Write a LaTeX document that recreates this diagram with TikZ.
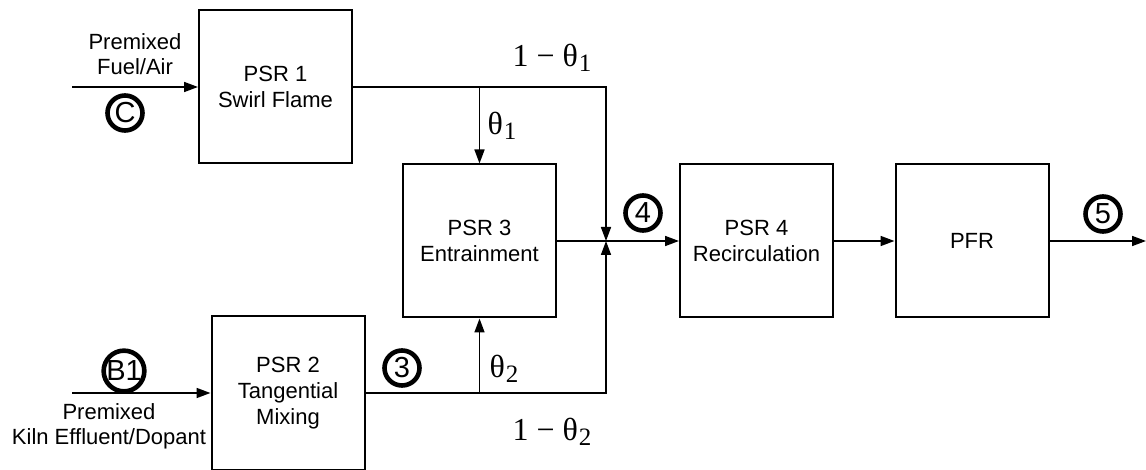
\documentclass[tikz,border=0pt]{standalone}
\usepackage{fontspec}
\setmainfont{Liberation Sans}
\newfontfamily\splitfont{Liberation Serif}
\usetikzlibrary{arrows.meta,positioning}
\newcommand{\lowidx}[1]{\kern0.5pt\raisebox{-2.5pt}{\fontsize{12.5}{12.5}\selectfont #1}}

\tikzset{
  reactor/.style={draw,line width=1pt,minimum width=76.5pt,minimum height=76.5pt,
    align=center,font=\fontsize{11}{13}\selectfont},
  port/.style={circle,draw,line width=2.3pt,minimum size=17.5pt,inner sep=0pt,
    font=\fontsize{14.5}{14.5}\selectfont},
  pipe/.style={line width=0.8pt},
  flow/.style={pipe,-{Triangle[length=7pt,width=5pt]}},
  split/.style={font=\splitfont\fontsize{16}{16}\selectfont},
  feed/.style={align=center,font=\fontsize{11}{12.5}\selectfont}
}

\begin{document}
\begin{tikzpicture}[x=0.5pt,y=-0.5pt]
  \useasboundingbox (0,0) rectangle (1146,470);

  % reactor network
  \node[reactor] (psr1) at (275.5,87) {PSR 1\\Swirl Flame};
  \node[reactor] (psr2) at (288,393) {PSR 2\\Tangential\\Mixing};
  \node[reactor] (psr3) at (479.5,241) {PSR 3\\Entrainment};
  \node[reactor] (psr4) at (756.5,241) {PSR 4\\Recirculation};
  \node[reactor] (pfr) at (972,241) {PFR};

  % feeds, mixing point, exit
  \coordinate (feedC) at (72,87);
  \coordinate (feedB) at (72,393);
  \coordinate (mix) at (606,241);
  \coordinate (exit) at (1146,241);

  \node[feed] (feedCtxt) at (135,54) {Premixed\\Fuel/Air};
  \node[feed] (feedBtxt) at (109,426) {Premixed\\Kiln Effluent/Dopant};

  % streams
  \draw[flow] (feedC) -- (psr1);
  \draw[flow] (feedB) -- (psr2);
  \draw[flow] (psr1.east) -| (mix);
  \draw[flow] (psr2.east) -| (mix);
  \draw[flow] (psr1.east -| psr3.north) -- (psr3.north);
  \draw[flow] (psr2.east -| psr3.south) -- (psr3.south);
  \draw[pipe] (psr3.east) -- (mix);
  \draw[flow] (mix) -- (psr4.west);
  \draw[flow] (psr4) -- (pfr);
  \draw[flow] (pfr) -- (exit);

  % split fractions
  \node[split] (t1out) at (552,58) {1 − θ\lowidx{1}};
  \node[split] (t1) at (502,126) {θ\lowidx{1}};
  \node[split] (t2) at (504,369) {θ\lowidx{2}};
  \node[split] (t2out) at (552,432) {1 − θ\lowidx{2}};

  % sampling ports
  \foreach \tag/\x/\y/\txt in {portC/125/113/C, portB/124/371/B1,
      port3/402/368/3, port4/643/213/4, port5/1103/214/5}
    \node[port] (\tag) at (\x,\y) {\txt};
\end{tikzpicture}
\end{document}
